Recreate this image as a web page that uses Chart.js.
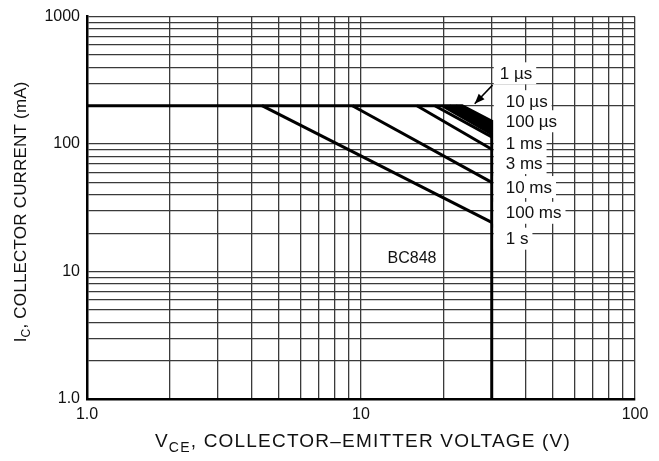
<!DOCTYPE html>
<html>
<head>
<meta charset="utf-8">
<script src="https://cdn.jsdelivr.net/npm/chart.js@4/dist/chart.umd.min.js"></script>
<style>
  html, body { margin: 0; padding: 0; background: #fff; }
  #wrap { width: 659px; height: 461px; }
</style>
</head>
<body>
<div id="wrap"><canvas id="soa" width="659" height="461"></canvas></div>
<script>
// Log grid positions and the labels shown on them
const xGrid = [1,2,3,4,5,6,7,8,9,10,20,30,40,50,60,70,80,90,100];
const yGrid = [1,2,3,4,5,6,7,8,9,10,20,30,40,50,60,70,80,90,100,200,300,400,500,600,700,800,900,1000];
const xTickText = { 1: '1.0', 10: '10', 100: '100' };
const yTickText = { 1: '1.0', 10: '10', 100: '100', 1000: '1000' };

// Safe operating area, one limit line per pulse width
const pulseNames = ['1 \u00b5s', '10 \u00b5s', '100 \u00b5s', '1 ms', '3 ms', '10 ms', '100 ms', '1 s'];
const kneeVolts  = [23.4, 22.2, 21.0, 19.8, 18.6, 16.0, 9.3, 4.35];  // V where the line leaves 200 mA
const endCurrent = [151, 140, 129, 120, 114, 91, 50, 24.3];         // mA at the 30 V limit
const labelCurrent = [359, 217, 151, 102, 71, 46, 28.9, 18.1];      // mA, vertical place of each pulse label
const currentLimit = 200;   // mA
const voltageLimit = 30;    // V
const floorCurrent = 1;     // mA, bottom of the plot
const startVolts = 1;

const FONT = '"Liberation Sans", Arial, Helvetica, sans-serif';
const INK = '#111';

const datasets = pulseNames.map((name, i) => {
  const pts = [];
  if (i === 0) pts.push({ x: startVolts, y: currentLimit });
  pts.push({ x: kneeVolts[i], y: currentLimit });
  pts.push({ x: voltageLimit, y: endCurrent[i] });
  if (i === 0) pts.push({ x: voltageLimit, y: floorCurrent });
  return {
    label: name,
    data: pts,
    borderColor: '#000',
    borderWidth: 3,
    pointRadius: 0,
    fill: false,
    tension: 0,
    borderJoinStyle: 'miter',
    borderCapStyle: 'butt'
  };
});

// The 1 µs ... 1 ms lines lie so close together that they print as one solid wedge
const wedge = {
  id: 'wedge',
  beforeDatasetsDraw(chart) {
    const top = chart.getDatasetMeta(0).data;   // 1 µs
    const bot = chart.getDatasetMeta(3).data;   // 1 ms
    const ctx = chart.ctx;
    ctx.save();
    ctx.fillStyle = '#000';
    ctx.beginPath();
    ctx.moveTo(top[1].x, top[1].y);
    ctx.lineTo(top[2].x, top[2].y);
    ctx.lineTo(bot[1].x, bot[1].y);
    ctx.lineTo(bot[0].x, bot[0].y);
    ctx.closePath();
    ctx.fill();
    ctx.restore();
  }
};

// Text with a subscript part: [main, sub, rest]
function drawSubText(ctx, parts, size, x, y, spacing) {
  ctx.letterSpacing = spacing + 'px';
  const big = size + 'px ' + FONT;
  const small = Math.round(size * 0.72) + 'px ' + FONT;
  ctx.font = big;
  const w0 = ctx.measureText(parts[0]).width;
  const w2 = ctx.measureText(parts[2]).width;
  ctx.font = small;
  const w1 = ctx.measureText(parts[1]).width;
  let cx = x - (w0 + w1 + w2) / 2;
  ctx.textAlign = 'left';
  ctx.textBaseline = 'alphabetic';
  ctx.font = big;
  ctx.fillText(parts[0], cx, y);
  cx += w0;
  ctx.font = small;
  ctx.fillText(parts[1], cx, y + size * 0.25);
  cx += w1;
  ctx.font = big;
  ctx.fillText(parts[2], cx, y);
  ctx.letterSpacing = '0px';
}

const annotations = {
  id: 'annotations',
  afterDatasetsDraw(chart) {
    const { ctx, scales: { x, y } } = chart;
    const xLim = x.getPixelForValue(voltageLimit);
    ctx.save();
    ctx.font = '17px ' + FONT;
    ctx.textBaseline = 'middle';
    ctx.textAlign = 'left';
    // white label boxes first, so the grid is hidden behind the text
    ctx.fillStyle = '#fff';
    pulseNames.forEach((name, i) => {
      const ly = y.getPixelForValue(labelCurrent[i]);
      const lx = xLim + (i === 0 ? 8 : 14);
      const w = ctx.measureText(name).width;
      ctx.fillRect(xLim + 2, ly - 11, lx + w + 4 - (xLim + 2), 22);
    });
    ctx.fillStyle = INK;
    pulseNames.forEach((name, i) => {
      const ly = y.getPixelForValue(labelCurrent[i]);
      const lx = xLim + (i === 0 ? 8 : 14);
      ctx.fillText(name, lx, ly + 1);
    });

    // arrow from the 1 µs label to its line
    const ax0 = x.getPixelForValue(30.2), ay0 = y.getPixelForValue(290);
    const ax1 = x.getPixelForValue(26.0), ay1 = y.getPixelForValue(207);
    ctx.strokeStyle = '#000';
    ctx.lineWidth = 1.5;
    ctx.beginPath();
    ctx.moveTo(ax0, ay0);
    ctx.lineTo(ax1, ay1);
    ctx.stroke();
    const ang = Math.atan2(ay1 - ay0, ax1 - ax0);
    const hl = 10, hw = 4;
    ctx.fillStyle = '#000';
    ctx.beginPath();
    ctx.moveTo(ax1, ay1);
    ctx.lineTo(ax1 - hl * Math.cos(ang) + hw * Math.sin(ang), ay1 - hl * Math.sin(ang) - hw * Math.cos(ang));
    ctx.lineTo(ax1 - hl * Math.cos(ang) - hw * Math.sin(ang), ay1 - hl * Math.sin(ang) + hw * Math.cos(ang));
    ctx.closePath();
    ctx.fill();

    // device name
    ctx.fillStyle = INK;
    ctx.font = '16px ' + FONT;
    ctx.textAlign = 'center';
    ctx.fillText('BC848', x.getPixelForValue(15.35), y.getPixelForValue(12.6));

    // axis titles
    const area = chart.chartArea;
    drawSubText(ctx, ['V', 'CE', ', COLLECTOR\u2013EMITTER VOLTAGE (V)'], 19, (area.left + area.right) / 2 + 2, 447, 1.2);
    ctx.translate(26, (area.top + area.bottom) / 2 + 4);
    ctx.rotate(-Math.PI / 2);
    drawSubText(ctx, ['I', 'C', ', COLLECTOR CURRENT (mA)'], 17, 0, 0, 0.2);
    ctx.restore();
  }
};

const gridStyle = {
  color: '#3a3a3a',
  lineWidth: 1.3,
  drawTicks: false
};

new Chart(document.getElementById('soa'), {
  type: 'line',
  data: { datasets },
  options: {
    responsive: false,
    animation: false,
    devicePixelRatio: 1,
    layout: { padding: { top: 15, right: 24, left: 0, bottom: 0 } },
    plugins: { legend: { display: false }, tooltip: { enabled: false } },
    scales: {
      x: {
        type: 'logarithmic',
        min: 1, max: 100,
        afterBuildTicks: s => { s.ticks = xGrid.map(v => ({ value: v })); },
        afterFit: s => { s.height = 62; },
        grid: gridStyle,
        border: { color: '#000', width: 2.5 },
        ticks: {
          autoSkip: false, maxRotation: 0, padding: 6,
          color: INK, font: { family: FONT, size: 16 },
          callback: v => xTickText[v] ?? ''
        }
      },
      y: {
        type: 'logarithmic',
        min: 1, max: 1000,
        afterBuildTicks: s => { s.ticks = yGrid.map(v => ({ value: v })); },
        afterFit: s => { s.width = 87; },
        grid: gridStyle,
        border: { color: '#000', width: 2.5 },
        ticks: {
          autoSkip: false, padding: 7,
          color: INK, font: { family: FONT, size: 16 },
          callback: v => yTickText[v] ?? ''
        }
      }
    }
  },
  plugins: [wedge, annotations]
});
</script>
</body>
</html>
